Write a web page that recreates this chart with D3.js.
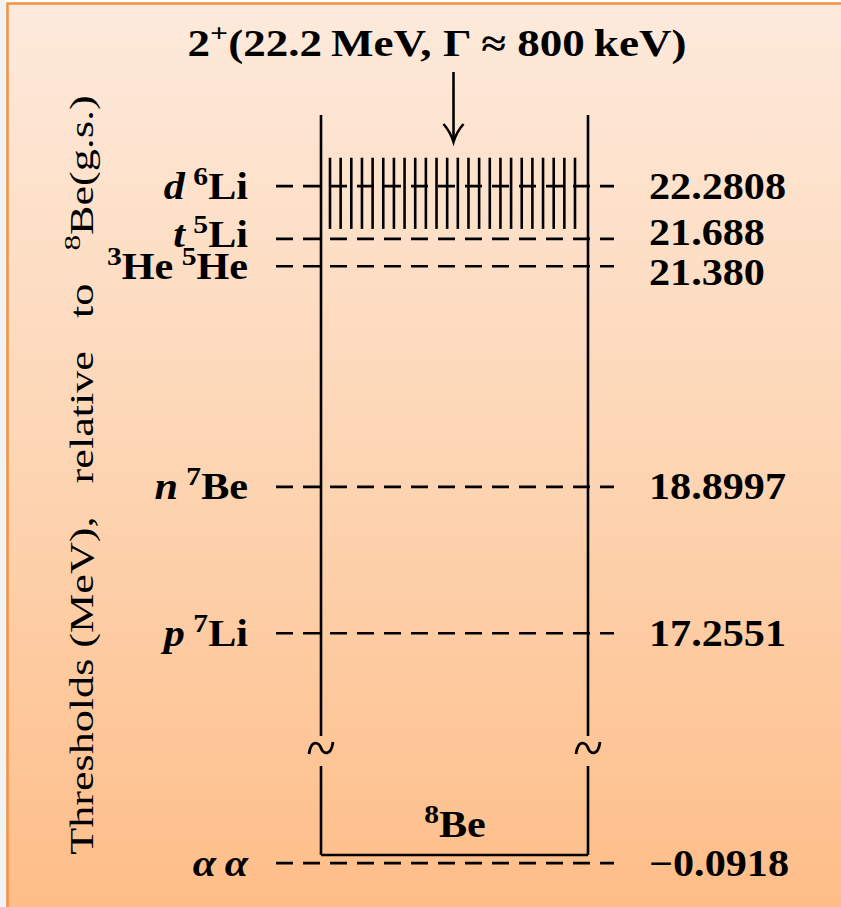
<!DOCTYPE html>
<html>
<head>
<meta charset="utf-8">
<script src="https://cdn.jsdelivr.net/npm/d3@7"></script>
<style>
  body { margin: 0; background: #fff; }
  svg text { font-family: 'Liberation Serif', 'Times New Roman', serif; fill: #000; }
</style>
</head>
<body>
<div id="vis"></div>
<script>
// thresholds (MeV) relative to 8Be ground state, top to bottom
var thresholds = [22.2808, 21.688, 21.380, 18.8997, 17.2551, -0.0918];
var valueLabels = ['22.2808', '21.688', '21.380', '18.8997', '17.2551', '\u22120.0918'];
// channel names as [text, style] pieces ('it' italic, 'sup' superscript)
var channelParts = [
  [['d', 'it'], ['\u2009', ''], ['6', 'sup'], ['Li', '']],
  [['t', 'it'], ['\u2009', ''], ['5', 'sup'], ['Li', '']],
  [['3', 'sup'], ['He', ''], ['\u2009', ''], ['5', 'sup'], ['He', '']],
  [['n', 'it'], ['\u2009', ''], ['7', 'sup'], ['Be', '']],
  [['p', 'it'], ['\u2009', ''], ['7', 'sup'], ['Li', '']],
  [['\u03b1', 'it'], ['\u2009', ''], ['\u03b1', 'it']]
];
var titleParts = [['2', ''], ['+', 'sup'], ['(22.2\u2009MeV, \u0393 \u2248 800\u2009keV)', '']];
var nucleusParts = [['8', 'sup'], ['Be', '']];
var axisParts = [['Thresholds (MeV),\u2002 relative\u2002 to\u2002 ', ''], ['8', 'sup'], ['Be(g.s.)', '']];

// the 2+ resonance
var resEnergy = 22.2;
var resWidth = 0.8;

var width = 841;
var height = 907;

var boxLeft = 321, boxRight = 588;
var dashStart = 276, dashEnd = 614;
var fontSize = 37;
var stretch = 1.14; // wider glyphs, closer to the original serif

// broken energy axis: upper piece and ground-state piece, same MeV per pixel
var yUp = d3.scaleLinear().domain([16.1, 23.08]).range([736, 115]);
var yLow = d3.scaleLinear().domain([0, 1.0]).range([855, 766]);
function yPos(e) { return e > 5 ? yUp(e) : yLow(e); }

var svg = d3.select('#vis').append('svg')
  .attr('width', width)
  .attr('height', height);

var grad = svg.append('defs').append('linearGradient')
  .attr('id', 'bg').attr('x1', 0).attr('y1', 0).attr('x2', 0).attr('y2', 1);
grad.append('stop').attr('offset', '0%').attr('stop-color', '#fdeadc');
grad.append('stop').attr('offset', '50%').attr('stop-color', '#fdd5b3');
grad.append('stop').attr('offset', '100%').attr('stop-color', '#febc86');

svg.append('rect').attr('x', 0).attr('y', 0).attr('width', 6).attr('height', height)
  .attr('fill', '#f3f3f3');
svg.append('rect')
  .attr('x', 7.5).attr('y', 3.5)
  .attr('width', width + 20).attr('height', height + 20)
  .attr('fill', 'url(#bg)')
  .attr('stroke', '#f6903f')
  .attr('stroke-width', 2.5);

function richText(sel, parts, size) {
  var supSize = Math.round(size * 0.7);
  var shift = Math.round(size * 0.38);
  var up = false;
  parts.forEach(function (p) {
    var t = sel.append('tspan').text(p[0]);
    if (p[1] === 'sup') {
      t.attr('font-size', supSize).attr('dy', up ? 0 : -shift);
      up = true;
    } else {
      t.attr('dy', up ? shift : 0);
      up = false;
      if (p[1] === 'it') t.attr('font-style', 'italic');
    }
  });
  return sel;
}

// a text inside a group, so it can be widened around its anchor
function label(x, y, anchor, sx) {
  var grp = svg.append('g').attr('transform', 'translate(' + x + ',' + y + ') scale(' + sx + ',1)');
  return grp.append('text')
    .attr('text-anchor', anchor)
    .attr('font-weight', 'bold')
    .attr('font-size', fontSize);
}

// spread labels that would collide
function relaxUp(ys, gap) {
  var out = ys.slice();
  for (var i = out.length - 1; i > 0; i--) {
    if (out[i] - out[i - 1] < gap) out[i - 1] = out[i] - gap;
  }
  return out;
}
function relaxBoth(ys, gap) {
  var out = ys.slice();
  for (var i = 1; i < out.length; i++) {
    var d = out[i] - out[i - 1];
    if (d < gap) { out[i - 1] -= (gap - d) / 2; out[i] += (gap - d) / 2; }
  }
  return out;
}

var lineYs = thresholds.map(yPos);
var leftYs = relaxUp(lineYs, 32);
var rightYs = relaxBoth(lineYs, 40);
var capHalf = 12.5;

var g = svg.append('g').attr('stroke', '#000').attr('stroke-width', 2.6).attr('fill', 'none');

// resonance hatch
var hatchTop = yUp(resEnergy + resWidth / 2);
var hatchBot = yUp(resEnergy - resWidth / 2);
var hatchX = d3.scaleLinear().domain([0, 23]).range([boxLeft + 9, boxRight - 13]);
g.selectAll('.hatch').data(d3.range(24)).enter().append('line')
  .attr('class', 'hatch')
  .attr('x1', function (d) { return hatchX(d); })
  .attr('x2', function (d) { return hatchX(d); })
  .attr('y1', hatchTop).attr('y2', hatchBot);

// box sides with break marks
var breakY = 748;
[boxLeft, boxRight].forEach(function (x) {
  g.append('line').attr('x1', x).attr('x2', x).attr('y1', yUp(23.08)).attr('y2', yUp(16.1));
  g.append('line').attr('x1', x).attr('x2', x).attr('y1', yLow(1.0)).attr('y2', yLow(0));
  g.append('path')
    .attr('d', 'M' + (x - 12) + ',' + (breakY + 6) +
      ' C' + (x - 10) + ',' + (breakY - 9) + ' ' + (x - 2) + ',' + (breakY - 6) + ' ' + x + ',' + breakY +
      ' S' + (x + 10) + ',' + (breakY + 9) + ' ' + (x + 12) + ',' + (breakY - 6))
    .attr('stroke-width', 2.8);
});
g.append('line').attr('x1', boxLeft).attr('x2', boxRight).attr('y1', yLow(0)).attr('y2', yLow(0));

// threshold lines
g.selectAll('.thr').data(thresholds).enter().append('line')
  .attr('class', 'thr')
  .attr('x1', dashStart).attr('x2', dashEnd)
  .attr('y1', function (d) { return yPos(d); })
  .attr('y2', function (d) { return yPos(d); })
  .attr('stroke-dasharray', '17,10');

// arrow to the resonance
var ax = (boxLeft + boxRight) / 2 - 1;
g.append('line').attr('x1', ax).attr('x2', ax).attr('y1', 72).attr('y2', 141);
g.append('path').attr('d', 'M' + (ax - 10) + ',124 Q' + (ax - 3) + ',132 ' + ax + ',142 Q' + (ax + 3) + ',132 ' + (ax + 10) + ',124');

// channel labels and threshold values
channelParts.forEach(function (parts, i) {
  richText(label(248, leftYs[i] + capHalf, 'end', stretch), parts, fontSize);
});
valueLabels.forEach(function (v, i) {
  label(649, rightYs[i] + capHalf, 'start', stretch).text(v);
});

// title, fitted to the width of the original
var tt = label(0, 0, 'middle', 1);
richText(tt, titleParts, fontSize);
var tw = tt.node().getBBox().width;
d3.select(tt.node().parentNode).attr('transform', 'translate(437,56) scale(' + (499 / tw) + ',1)');

richText(label(455, 837, 'middle', stretch), nucleusParts, fontSize);

// vertical axis title, stretched across the diagram
var at = svg.append('g').append('text')
  .attr('text-anchor', 'middle')
  .attr('font-size', 34);
richText(at, axisParts, 34);
var al = at.node().getBBox().width;
d3.select(at.node().parentNode)
  .attr('transform', 'translate(93,475) rotate(-90) scale(' + (760 / al) + ',1)');
</script>
</body>
</html>
